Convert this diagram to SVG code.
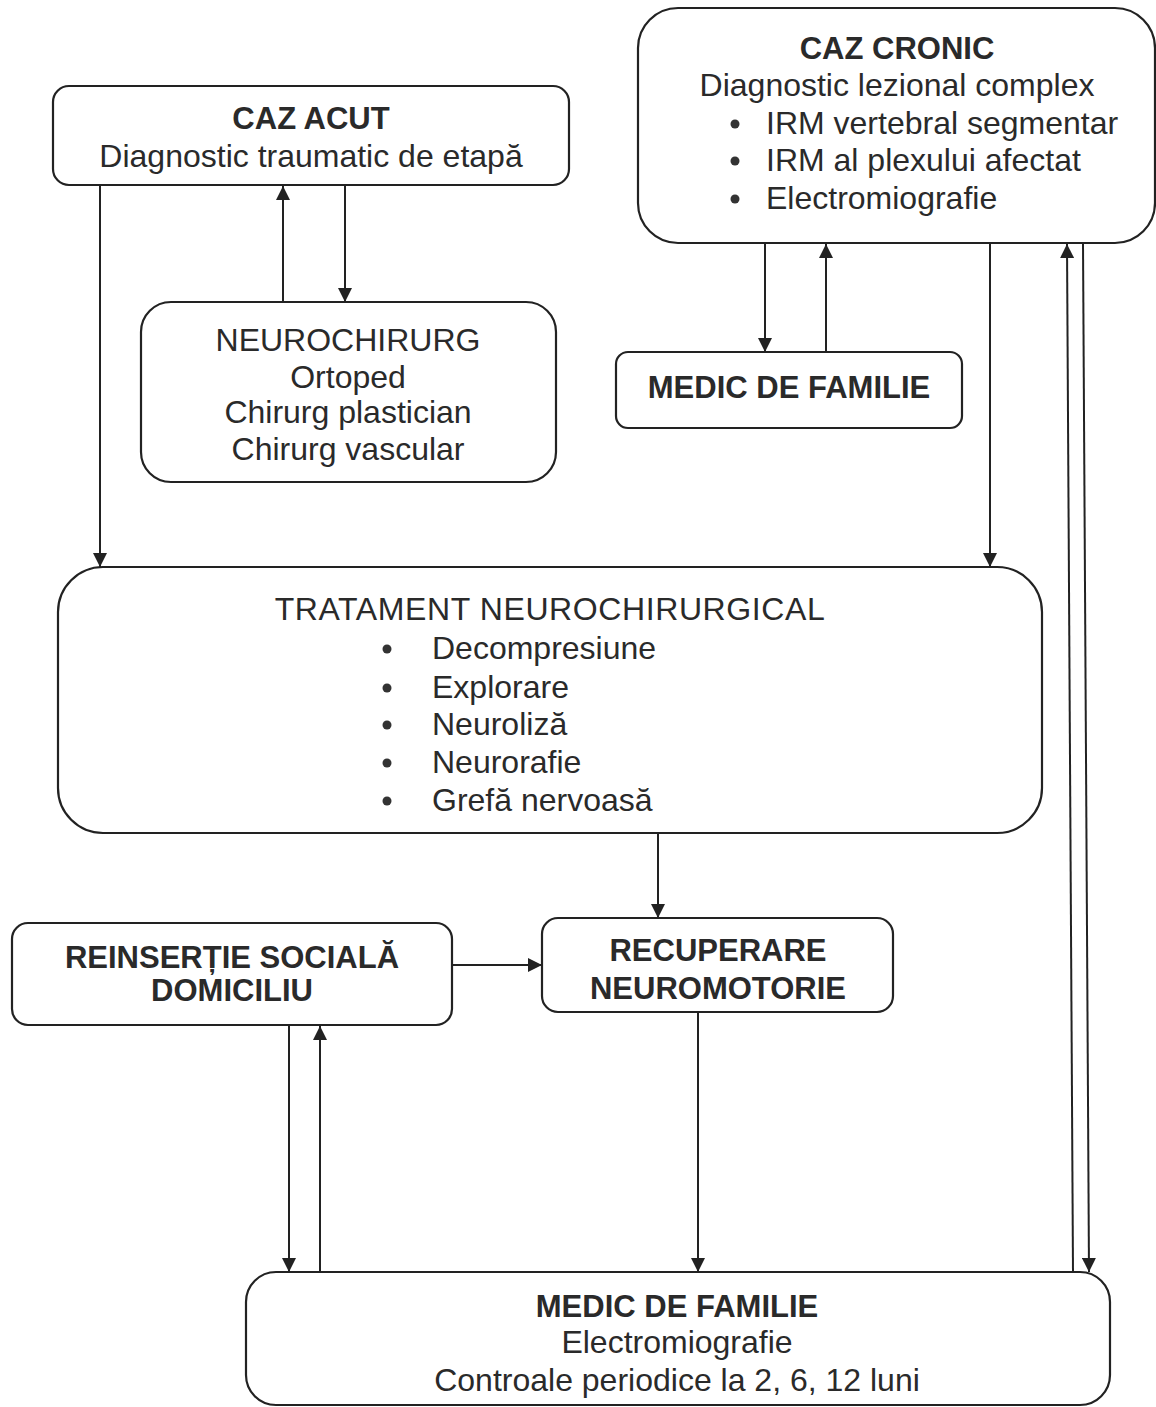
<svg xmlns="http://www.w3.org/2000/svg" width="1156" height="1407" viewBox="0 0 1156 1407">
<defs>
<marker id="ah" viewBox="0 0 10 10" refX="10" refY="5" markerWidth="14" markerHeight="14" markerUnits="userSpaceOnUse" orient="auto"><path d="M0,0 L10,5 L0,10 z" fill="#222"/></marker>
<style>
.box{fill:#fff;stroke:#222;stroke-width:2.2}
.t{font-family:"Liberation Sans",Arial,sans-serif;font-size:32px;fill:#2a2a2a;text-anchor:middle}
.b{font-weight:bold;font-size:31px}
.l{text-anchor:start}
.c{stroke:#222;stroke-width:2;fill:none;marker-end:url(#ah)}
</style>
</defs>
<rect width="1156" height="1407" fill="#fff"/>
<g id="connectors">
<line class="c" x1="100" y1="185" x2="100" y2="567"/>
<line class="c" x1="283" y1="302" x2="283" y2="186"/>
<line class="c" x1="345" y1="186" x2="345" y2="302"/>
<line class="c" x1="765" y1="243" x2="765" y2="352"/>
<line class="c" x1="826" y1="352" x2="826" y2="244"/>
<line class="c" x1="990" y1="243" x2="990" y2="567"/>
<line class="c" x1="1073" y1="1272" x2="1067" y2="244"/>
<line class="c" x1="1083" y1="243" x2="1089" y2="1272"/>
<line class="c" x1="658" y1="833" x2="658" y2="918"/>
<line class="c" x1="452" y1="965" x2="542" y2="965"/>
<line class="c" x1="289" y1="1025" x2="289" y2="1272"/>
<line class="c" x1="320" y1="1272" x2="320" y2="1026"/>
<line class="c" x1="698" y1="1012" x2="698" y2="1272"/>
</g>
<g id="caz-acut">
<rect class="box" x="53" y="86" width="516" height="99" rx="16"/>
<text class="t b" x="311" y="129">CAZ ACUT</text>
<text class="t" x="311" y="167">Diagnostic traumatic de etapă</text>
</g>
<g id="neurochirurg">
<rect class="box" x="141" y="302" width="415" height="180" rx="30"/>
<text class="t" x="348" y="351">NEUROCHIRURG</text>
<text class="t" x="348" y="388">Ortoped</text>
<text class="t" x="348" y="423">Chirurg plastician</text>
<text class="t" x="348" y="460">Chirurg vascular</text>
</g>
<g id="caz-cronic">
<rect class="box" x="638" y="8" width="517" height="235" rx="40"/>
<text class="t b" x="897" y="59">CAZ CRONIC</text>
<text class="t" x="897" y="96">Diagnostic lezional complex</text>
<circle cx="735" cy="124" r="4.5" fill="#333"/>
<circle cx="735" cy="161" r="4.5" fill="#333"/>
<circle cx="735" cy="199" r="4.5" fill="#333"/>
<text class="t l" x="766" y="134">IRM vertebral segmentar</text>
<text class="t l" x="766" y="171">IRM al plexului afectat</text>
<text class="t l" x="766" y="209">Electromiografie</text>
</g>
<g id="medic-familie-top">
<rect class="box" x="616" y="352" width="346" height="76" rx="12"/>
<text class="t b" x="789" y="398">MEDIC DE FAMILIE</text>
</g>
<g id="tratament">
<rect class="box" x="58" y="567" width="984" height="266" rx="45"/>
<text class="t" x="550" y="620" letter-spacing="0.6">TRATAMENT NEUROCHIRURGICAL</text>
<circle cx="387" cy="649" r="4.5" fill="#333"/>
<circle cx="387" cy="688" r="4.5" fill="#333"/>
<circle cx="387" cy="725" r="4.5" fill="#333"/>
<circle cx="387" cy="763" r="4.5" fill="#333"/>
<circle cx="387" cy="801" r="4.5" fill="#333"/>
<text class="t l" x="432" y="659">Decompresiune</text>
<text class="t l" x="432" y="698">Explorare</text>
<text class="t l" x="432" y="735">Neuroliză</text>
<text class="t l" x="432" y="773">Neurorafie</text>
<text class="t l" x="432" y="811">Grefă nervoasă</text>
</g>
<g id="reinsertie">
<rect class="box" x="12" y="923" width="440" height="102" rx="16"/>
<text class="t b" x="232" y="968">REINSERȚIE SOCIALĂ</text>
<text class="t b" x="232" y="1001">DOMICILIU</text>
</g>
<g id="recuperare">
<rect class="box" x="542" y="918" width="351" height="94" rx="16"/>
<text class="t b" x="718" y="961">RECUPERARE</text>
<text class="t b" x="718" y="999">NEUROMOTORIE</text>
</g>
<g id="medic-familie-bottom">
<rect class="box" x="246" y="1272" width="864" height="133" rx="30"/>
<text class="t b" x="677" y="1317">MEDIC DE FAMILIE</text>
<text class="t" x="677" y="1353">Electromiografie</text>
<text class="t" x="677" y="1391">Controale periodice la 2, 6, 12 luni</text>
</g>
</svg>
